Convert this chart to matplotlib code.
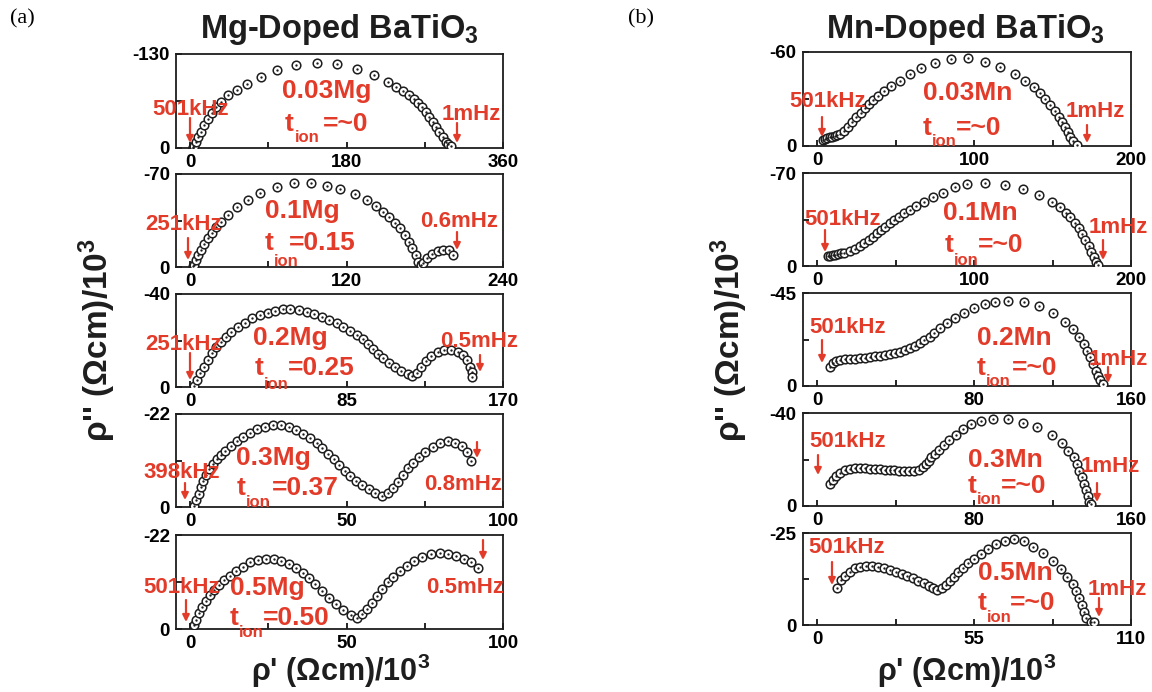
import matplotlib
matplotlib.use('Agg')
import matplotlib.pyplot as plt
from matplotlib.patches import FancyArrowPatch

# ---------------- data (rho' , -rho'') in (Ohm cm)/10^3 ----------------
mg003_re = [3.0, 3.6, 4.2, 6.9, 9.5, 12.6, 16.4, 20.2, 24.8, 29.7, 35.4, 43.8, 53.7, 65.1, 81.1, 100.2, 122, 146,
            169.5, 191.7, 211.8, 227.7, 237.3, 244.9, 251.8, 257.1, 262.1, 267.1, 271.6, 275.4, 279.2, 283,
            286.9, 290.6, 294.4, 297.0, 300.1]
mg003_im = [0.5, 1.5, 2.8, 8.8, 15.7, 22.6, 31.8, 39.6, 48, 56.2, 64, 73.3, 80.2, 88.5, 98.6, 107.9, 114.8, 118,
            116.2, 108.8, 101, 91.7, 84.8, 79.3, 73.3, 67.3, 61.8, 56.2, 50.3, 43.3, 36.4, 29.5,
            22.6, 15.7, 8.8, 5.0, 2.8]

mg01_re = [2.5, 3.3, 4.6, 6.3, 8.4, 10.9, 13.5, 16.5, 19.8, 23.6, 29.2, 36.3, 44.4, 53.6, 66.3, 79.5, 92.7, 104.9,
           115.1, 126.5, 135.4, 142.5, 148.1, 152.7, 157, 161.3, 164.6, 167.9, 170.5, 173, 175, 177.3,
           178.4, 181.5, 185.6, 189.9, 194.2, 198.3, 201.4]
mg01_im = [0.5, 1.5, 5.3, 9, 12.8, 17.1, 21.6, 25.9, 29.9, 34.1, 39.1, 44.9, 50.4, 55.5, 60, 63.5, 63.5, 61,
           58.5, 55, 50.4, 45.9, 41.6, 37.9, 33.4, 29.1, 24.1, 19.1, 14.1, 9, 4, 1.5,
           2.8, 6.5, 9.8, 12, 13, 12.8, 9]

mg02_re = [2.3, 3.8, 5.6, 7.7, 9.6, 11.7, 14, 16.7, 19.4, 22.5, 26.1, 29.7, 33.8, 37.9, 42.3, 46.4, 50.6, 54.5,
           59, 63.5, 67.5, 71.6, 75.7, 79.7, 83.3, 86.9, 90.5, 93.7, 96.8, 99.5, 102.2, 104.9, 108.1, 111.2,
           114.8, 118.4, 120.7, 123.2, 125.6, 127.9, 131, 134.6, 138.2, 141.8, 145.3, 148.4, 150.7, 152.2,
           153.1, 153.3]
mg02_im = [0.4, 3, 5.9, 8.7, 11.6, 14.5, 17.1, 19.5, 21.6, 23.8, 25.9, 27.7, 29.5, 31, 32, 32.8, 33.4, 33.5,
           33.1, 32.4, 31.4, 30.2, 28.8, 27.4, 25.9, 24.2, 22.4, 20.5, 18.5, 16.2, 14.2, 12.3, 10.5, 8.7,
           7, 5.6, 4.7, 5.9, 8.7, 11.3, 13.3, 15.1, 15.9, 15.9, 15.2, 13.8, 11.6, 8.7,
           6.3, 4.2]

mg03_re = [1.3, 1.9, 2.7, 3.4, 4.2, 5.1, 6.2, 7.2, 8.5, 9.8, 11.2, 13, 14.9, 17, 19.1, 21.4, 23.9, 26.5, 29.2,
           31.6, 34, 36.1, 38.2, 40.4, 42.3, 44.1, 45.9, 47.6, 49.4, 51.2, 53.1, 55, 57.1, 59.2, 61.4, 63.2,
           64.8, 66.3, 67.9, 69.5, 71.1, 73, 75.2, 77.5, 79.8, 82.3, 84.7, 86.9, 88.6, 89.7]
mg03_im = [0.2, 1.7, 3.1, 4.7, 6.2, 7.6, 8.9, 10.2, 11.3, 12.3, 13.3, 14.4, 15.5, 16.6, 17.6, 18.4, 19, 19.3, 19.3,
           19, 18.2, 17.3, 16.3, 15.1, 13.9, 12.5, 11.3, 9.9, 8.6, 7.3, 6.2, 5.2, 4.3, 3.4, 2.6, 3.2,
           4.4, 6, 7.6, 9.2, 10.5, 11.9, 13.1, 14.3, 15.1, 15.5, 15.2, 14.4, 13.1, 11]

mg05_re = [1.3, 2, 2.9, 3.9, 5, 6.3, 7.6, 9.2, 10.8, 12.6, 14.7, 16.9, 19.3, 21.8, 24.3, 26.8, 29.2, 31.5, 33.9,
           36, 38.1, 40, 42.1, 44.3, 46.6, 49, 51.5, 53.3, 54.9, 56.5, 58.1, 59.7, 61.2, 63.2, 65, 67.1, 69.2,
           71.7, 74.2, 77, 79.8, 82.5, 85.1, 87.6, 89.7, 92]
mg05_im = [0.9, 2.1, 3.7, 5.2, 6.6, 8, 9.1, 10.3, 11.5, 12.5, 13.6, 14.6, 15.6, 16.1, 16.4, 16.3, 15.9, 15.1, 14.2,
           13, 11.9, 10.5, 8.9, 7.3, 5.8, 4.4, 3.3, 2.5, 3.4, 4.7, 6.2, 7.8, 9.4, 10.9, 12.2, 13.6, 14.8,
           15.9, 16.9, 17.5, 17.8, 17.6, 17.2, 16.4, 15.6, 14.3]

mn003_re = [3.5, 4.7, 6.2, 7.9, 9.5, 11.1, 12.7, 14.3, 17.1, 19.6, 22.2, 24.9, 27.7, 30.3, 33.1, 35.8, 38.8, 42.6,
            47.3, 52.7, 59.1, 66.5, 75.1, 85.3, 95.9, 107, 116.6, 126.2, 132.6, 137.9, 142.2, 145.4, 148.6,
            151.3, 153.9, 156, 158.2, 159.9, 161.4, 162.9, 165.6]
mn003_im = [4.0, 4.3, 4.8, 5.5, 5.9, 6.4, 7.0, 7.7, 9.8, 12.3, 15.3, 18.3, 21.3, 24, 26.8, 29.3, 31.9, 35.3,
            38.5, 41.7, 45.9, 50, 53.2, 55.5, 56, 53.8, 50.6, 45.9, 41.7, 37.8, 33.6, 29.8, 26.2,
            22.5, 18.7, 15.5, 12.3, 9.1, 5.9, 3.4, 0.6]

mn01_re = [6.8, 8.4, 10, 11.6, 13.2, 15.1, 17.1, 20.7, 23.9, 27.1, 29.9, 32.9, 35.6, 38.4, 40.9, 43.5, 46.3, 49,
           52, 55.4, 59.1, 63.3, 68.2, 74, 80.4, 87.8, 95.3, 107, 119.4, 131.5, 141.6, 149.6, 155, 158.6,
           161.4, 164.1, 166.7, 168.8, 171, 173.1, 174.8, 176.3, 177.8, 179]
mn01_im = [7.5, 7.9, 8.3, 8.6, 9, 9.5, 10, 11.5, 13, 15.1, 17.1, 19.6, 22.1, 24.6, 27.1, 29.6, 32.1, 34.6,
           37.1, 39.7, 42.1, 45.2, 48.4, 51.7, 55.2, 59.2, 61.7, 62.7, 61, 57.7, 53.4, 48.4, 44.2, 40.1,
           36.6, 32.6, 28.3, 24.1, 19.6, 15.1, 10.8, 7, 3.3, 0.8]

mn02_re = [6.7, 8, 9.6, 11.8, 14.3, 16.8, 19.4, 21.9, 24.4, 26.9, 29.5, 32, 34.5, 37, 39.6, 42.1, 44.6, 47.1,
           49.7, 52.2, 54.7, 57.3, 59.8, 62.8, 66.2, 70.2, 74.9, 79.9, 85.4, 90.9, 97.2, 105.3, 113.3, 120.4,
           126.3, 130.5, 133.6, 135.9, 137.6, 139.3, 140.6, 142, 143.2, 144.4, 145.7]
mn02_im = [9.3, 11, 12.1, 12.6, 12.9, 13.1, 13.2, 13.4, 13.7, 14, 14.4, 14.7, 15.1, 15.6, 16.1, 16.6, 17.4, 18.2,
           19.4, 20.6, 22.3, 23.9, 25.8, 27.9, 30.3, 32.8, 35.1, 37.6, 39.5, 40.8, 41.1, 40.5, 38.7, 35.1,
           31.1, 27.4, 23.9, 20.3, 17.1, 13.9, 10.6, 7.4, 4.8, 2.9, 1]

mn03_re = [6.7, 8, 9.7, 11.8, 14.3, 16.8, 19.3, 21.8, 24.3, 26.8, 29.3, 31.9, 34.4, 36.9, 39.4, 41.9, 44.4, 46.9,
           49.4, 52, 54, 55.6, 57, 58.3, 60, 62, 64.5, 67.3, 70.7, 74.6, 78.4, 83.4, 89.6, 97.2, 104.7, 112.3,
           119.8, 124.8, 128.1, 130.7, 132.4, 133.7, 134.9, 136, 137, 137.9, 138.7, 139.4]
mn03_im = [9.5, 11.2, 12.9, 14.3, 15.5, 16, 16.3, 16.3, 16.2, 16, 15.9, 15.8, 15.6, 15.5, 15.3, 15.2, 15.1, 14.9,
           14.9, 15.5, 16.6, 18.1, 19.5, 20.9, 22.4, 24.1, 26.2, 28.4, 30.5, 33, 35.3, 36.6, 37.3, 37.3, 35.8,
           33.8, 30.5, 27, 23.8, 20.9, 18.1, 15.2, 12.3, 9.5, 6.9, 4.3, 1.9, 0.9]

mn05_re = [7, 8.2, 9.7, 11.4, 13.2, 15.2, 17.2, 19.3, 21.4, 23.4, 25.4, 27.5, 29.6, 31.6, 33.6, 35.5, 37.5, 39.3,
           40.6, 42.1, 43.7, 45.1, 46.5, 48, 49.5, 51.1, 53, 55, 57.3, 60, 62.8, 65.9, 69, 72.6, 75.7, 79.2,
           82.5, 85.4, 87.7, 89.5, 90.9, 91.9, 92.8, 93.6, 94.4, 96, 97.1]
mn05_im = [10, 12.2, 13.4, 14.5, 15.4, 15.8, 16, 15.9, 15.8, 15.4, 14.9, 14.5, 13.9, 13.4, 12.7, 12, 11.3, 10.7,
           10, 9.5, 10, 10.9, 12, 13.1, 14.3, 15.4, 16.8, 17.9, 19.2, 20.6, 21.9, 22.8, 23.3, 22.8, 21.3, 19.5,
           17.4, 15.2, 13.1, 11.1, 9.2, 7.4, 5.4, 3.6, 1.8, 0.9, 0.7]

# axis ranges (x max, |y| max) and labels
mg_xmax = [360, 240, 170, 100, 100]
mg_ymax = [130, 70, 40, 22, 22]
mn_xmax = [200, 200, 160, 160, 110]
mn_ymax = [60, 70, 45, 40, 25]
mg_doping = ['0.03Mg', '0.1Mg', '0.2Mg', '0.3Mg', '0.5Mg']
mn_doping = ['0.03Mn', '0.1Mn', '0.2Mn', '0.3Mn', '0.5Mn']
mg_tion = ['=~0', '=0.15', '=0.25', '=0.37', '=0.50']
mn_tion = ['=~0', '=~0', '=~0', '=~0', '=~0']
mg_hi = ['501kHz', '251kHz', '251kHz', '398kHz', '501kHz']
mg_lo = ['1mHz', '0.6mHz', '0.5mHz', '0.8mHz', '0.5mHz']
mn_hi = ['501kHz'] * 5
mn_lo = ['1mHz'] * 5

mg_data = [(mg003_re, mg003_im), (mg01_re, mg01_im), (mg02_re, mg02_im), (mg03_re, mg03_im), (mg05_re, mg05_im)]
mn_data = [(mn003_re, mn003_im), (mn01_re, mn01_im), (mn02_re, mn02_im), (mn03_re, mn03_im), (mn05_re, mn05_im)]

# ---------------- layout (pixel positions) ----------------
W, H = 1152, 692
RED = '#e23b29'
INK = '#1e1e1e'

plt.rcParams['font.family'] = ['Liberation Sans', 'DejaVu Sans']
plt.rcParams['font.weight'] = 'bold'
plt.rcParams['mathtext.fontset'] = 'custom'
plt.rcParams['mathtext.rm'] = 'Liberation Sans:bold'
plt.rcParams['mathtext.it'] = 'Liberation Sans:bold'
plt.rcParams['mathtext.bf'] = 'Liberation Sans:bold'
plt.rcParams['mathtext.default'] = 'rm'

fig = plt.figure(figsize=(W / 100, H / 100), dpi=100)

left_boxes = [(176, 54, 503, 148), (176, 174, 503, 267), (176, 294, 503, 387), (176, 414, 503, 507), (176, 535, 503, 629)]
right_boxes = [(803, 52, 1131, 146), (803, 173, 1131, 266), (803, 293, 1131, 386), (803, 413, 1131, 506), (803, 533, 1131, 625)]

# annotation layout: dopant label (cx, baseline); t (x, baseline); ion (x, baseline); '=' x;
# hi label (cx, baseline); hi arrow (x, y0, y1); lo label (cx, baseline); lo arrow (x, y0, y1)
left_ann = [
    dict(dop=(327, 98), t=(285, 131), ion=(295, 142), eq=323, hi=(191, 115), ha=(190, 118, 143), lo=(471, 120), la=(457, 123, 143)),
    dict(dop=(302, 218), t=(265, 250), ion=(274, 266), eq=289, hi=(183, 230), ha=(188, 238, 260), lo=(459, 227), la=(457, 232, 250)),
    dict(dop=(290, 345), t=(255, 375), ion=(264, 389), eq=288, hi=(183, 350), ha=(190, 353, 380), lo=(479, 347), la=(480, 355, 372)),
    dict(dop=(273, 465), t=(237, 495), ion=(246, 507), eq=272, hi=(182, 478), ha=(185, 483, 500), lo=(463, 490), la=(477, 442, 458)),
    dict(dop=(267, 595), t=(230, 625), ion=(239, 637), eq=263, hi=(182, 593), ha=(186, 600, 622), lo=(465, 593), la=(483, 540, 560)),
]
right_ann = [
    dict(dop=(968, 100), t=(923, 135), ion=(932, 146), eq=956, hi=(828, 107), ha=(822, 117, 137), lo=(1095, 117), la=(1087, 125, 143)),
    dict(dop=(980, 220), t=(945, 252), ion=(954, 265), eq=978, hi=(843, 225), ha=(825, 230, 252), lo=(1118, 233), la=(1103, 240, 260)),
    dict(dop=(1014, 345), t=(977, 375), ion=(986, 386), eq=1012, hi=(848, 333), ha=(822, 340, 363), lo=(1118, 365), la=(1108, 367, 383)),
    dict(dop=(1005, 467), t=(968, 493), ion=(977, 504), eq=1001, hi=(848, 447), ha=(818, 455, 475), lo=(1110, 472), la=(1097, 483, 502)),
    dict(dop=(1015, 580), t=(978, 610), ion=(987, 622), eq=1010, hi=(847, 553), ha=(832, 562, 585), lo=(1117, 595), la=(1099, 598, 617)),
]


def fx(x):
    return x / W


def fy(y):
    return 1 - y / H


def rtext(x, y, s, size, ha='center', va='baseline'):
    fig.text(fx(x), fy(y), s, fontsize=size, ha=ha, va=va, color=RED, fontweight='bold', zorder=5)


def rarrow(x, y0, y1):
    fig.add_artist(FancyArrowPatch((fx(x), fy(y0)), (fx(x), fy(y1)), transform=fig.transFigure,
                                   arrowstyle='-|>', mutation_scale=10, color=RED, lw=1.6,
                                   shrinkA=0, shrinkB=0, zorder=5))


def make_panel(box, re, im, xmax, ymax):
    x0, y0, x1, y1 = box
    ax = fig.add_axes([x0 / W, 1 - y1 / H, (x1 - x0) / W, (y1 - y0) / H])
    neg = [-v for v in im]
    ax.plot(re, neg, ls='none', marker='o', ms=6.2, mfc='white', mec=INK, mew=1.1, zorder=3)
    ax.plot(re, neg, ls='none', marker='o', ms=1.7, mfc=INK, mec=INK, mew=0, zorder=4)
    ax.set_xlim(-0.045 * xmax, xmax)
    ax.set_ylim(0, -ymax)
    xt = [0, xmax / 4, xmax / 2, 3 * xmax / 4, xmax]
    ax.set_xticks(xt)
    ax.set_xticklabels(['0', '', f'{xmax / 2:g}', '', f'{xmax}'])
    ax.set_yticks([0, -ymax / 2, -ymax])
    ax.set_yticklabels(['0', '', f'-{ymax}'])
    ax.tick_params(direction='in', length=4, width=1.2, labelsize=13.5, pad=4.5, top=False, right=False)
    for lab in ax.get_xticklabels() + ax.get_yticklabels():
        lab.set_fontweight('bold')
    for sp in ax.spines.values():
        sp.set_linewidth(1.3)
        sp.set_color(INK)
    return ax


def annotate(ann, dop, tion, hi, lo):
    rtext(ann['dop'][0], ann['dop'][1], dop, 19)
    rtext(ann['t'][0], ann['t'][1], 't', 19, ha='left')
    rtext(ann['ion'][0], ann['ion'][1], 'ion', 12, ha='left')
    rtext(ann['eq'], ann['t'][1], tion, 19, ha='left')
    rtext(ann['hi'][0], ann['hi'][1], hi, 16)
    rarrow(*ann['ha'])
    rtext(ann['lo'][0], ann['lo'][1], lo, 16)
    rarrow(*ann['la'])


for i in range(5):
    make_panel(left_boxes[i], mg_data[i][0], mg_data[i][1], mg_xmax[i], mg_ymax[i])
    annotate(left_ann[i], mg_doping[i], mg_tion[i], mg_hi[i], mg_lo[i])
    make_panel(right_boxes[i], mn_data[i][0], mn_data[i][1], mn_xmax[i], mn_ymax[i])
    annotate(right_ann[i], mn_doping[i], mn_tion[i], mn_hi[i], mn_lo[i])

# titles, axis labels, panel letters
fig.text(fx(339), fy(38), 'Mg-Doped BaTiO$_3$', fontsize=23.5, ha='center', va='baseline', color=INK)
fig.text(fx(965), fy(38), 'Mn-Doped BaTiO$_3$', fontsize=23.5, ha='center', va='baseline', color=INK)
fig.text(fx(97), fy(340), "ρ'' (Ωcm)/10$^3$", fontsize=24, rotation=90, ha='center', va='center', color=INK)
fig.text(fx(729), fy(340), "ρ'' (Ωcm)/10$^3$", fontsize=24, rotation=90, ha='center', va='center', color=INK)
fig.text(fx(341), fy(671), "ρ' (Ωcm)/10$^3$", fontsize=22, ha='center', va='center', color=INK)
fig.text(fx(967), fy(671), "ρ' (Ωcm)/10$^3$", fontsize=22, ha='center', va='center', color=INK)
fig.text(fx(22), fy(19), '(a)', fontsize=16, ha='center', va='center', fontweight='normal',
         family=['Liberation Serif', 'DejaVu Serif'], color='black')
fig.text(fx(641), fy(19), '(b)', fontsize=16, ha='center', va='center', fontweight='normal',
         family=['Liberation Serif', 'DejaVu Serif'], color='black')

fig.savefig('out.png', dpi=100)
